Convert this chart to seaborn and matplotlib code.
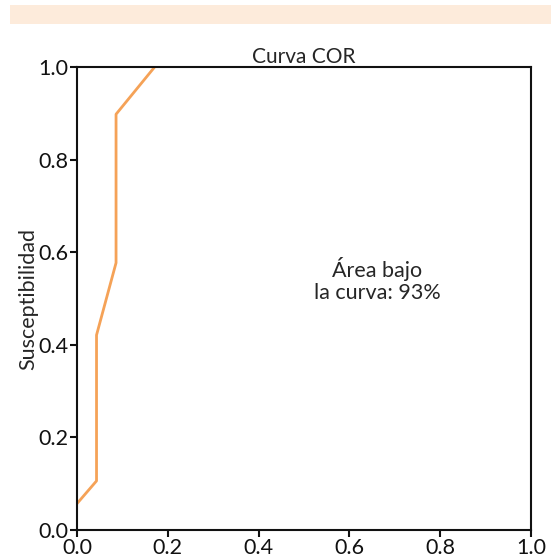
import matplotlib
matplotlib.use("Agg")
import matplotlib.pyplot as plt
import seaborn as sns
import pandas as pd
from matplotlib.patches import Rectangle

# Data
fpr = [0.0, 0.043, 0.043, 0.086, 0.086, 0.171]
tpr = [0.057, 0.106, 0.421, 0.577, 0.898, 1.0]
ticks = [0.0, 0.2, 0.4, 0.6, 0.8, 1.0]
tick_labels = ["0.0", "0.2", "0.4", "0.6", "0.8", "1.0"]
title = "Curva COR"
ylabel = "Susceptibilidad"
annotation = "Área bajo\nla curva: 93%"

sns.set_style("white")
plt.rcParams['font.family'] = ['Lato', 'DejaVu Sans']

df = pd.DataFrame({"fpr": fpr, "tpr": tpr, "order": range(len(fpr))})

fig = plt.figure(figsize=(5.6, 5.6), dpi=100)
fig.patches.append(Rectangle((10/560, 1-24/560), 541/560, 19/560,
                             transform=fig.transFigure, facecolor="#FDEBDB",
                             edgecolor="none", zorder=0))
ax = fig.add_axes([77/560, 1-530/560, 454/560, 463/560])

sns.lineplot(data=df, x="fpr", y="tpr", sort=False, ax=ax, color="#F5A257",
             linewidth=2.0, estimator=None)

ax.set_xlim(0, 1)
ax.set_ylim(0, 1)
ax.set_xticks(ticks)
ax.set_xticklabels(tick_labels)
ax.set_yticks(ticks)
ax.set_yticklabels(tick_labels)
ax.tick_params(axis="both", direction="out", length=5, width=1.5,
               labelsize=15.5, pad=1, colors="#111111", left=True, bottom=True)
for s in ax.spines.values():
    s.set_linewidth(1.5)
    s.set_color("#111111")
ax.set_xlabel("")
ax.set_ylabel(ylabel, fontsize=15.5, labelpad=0)
ax.set_title(title, fontsize=15, pad=3)
ax.text(0.662, 0.54, annotation, transform=ax.transAxes, ha="center",
        va="center", fontsize=15.5, linespacing=1.15)

fig.savefig("out.png", dpi=100)
